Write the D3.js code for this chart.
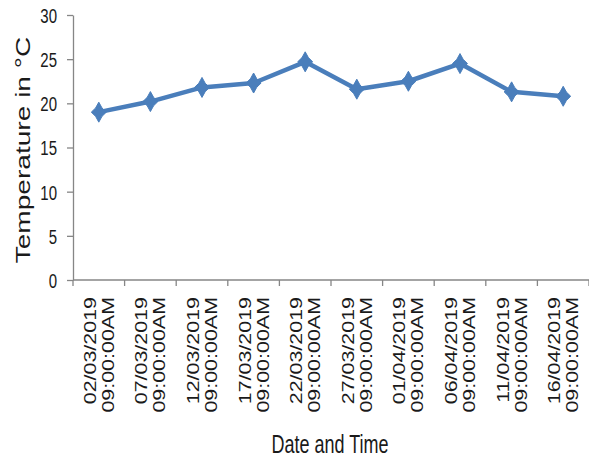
<!DOCTYPE html>
<html>
<head>
<meta charset="utf-8">
<script src="https://cdn.jsdelivr.net/npm/d3@7/dist/d3.min.js"></script>
<style>
  html, body { margin: 0; padding: 0; background: #fff; }
  svg { display: block; }
  text { font-family: "Liberation Sans", Arial, sans-serif; fill: #1a1a1a; }
</style>
</head>
<body>
<svg id="chart" width="589" height="461"></svg>
<script>
// Readings taken every five days at 09:00
const dates = ["02/03/2019", "07/03/2019", "12/03/2019", "17/03/2019", "22/03/2019",
               "27/03/2019", "01/04/2019", "06/04/2019", "11/04/2019", "16/04/2019"];
const times = ["09:00:00AM", "09:00:00AM", "09:00:00AM", "09:00:00AM", "09:00:00AM",
               "09:00:00AM", "09:00:00AM", "09:00:00AM", "09:00:00AM", "09:00:00AM"];
const temperatures = [19.0, 20.2, 21.8, 22.3, 24.7, 21.6, 22.5, 24.5, 21.3, 20.8];
const yTicks = [0, 5, 10, 15, 20, 25, 30];

const svg = d3.select("#chart");
const plot = { left: 73, right: 589, top: 15, bottom: 280 };
const stretch = 1.37;          // text is drawn tall and narrow
const axisColor = "#868686";
const lineColor = "#4A7EBB";

const x = d3.scaleBand().domain(dates).range([plot.left, plot.right]).padding(0);
const y = d3.scaleLinear().domain([0, 30]).range([plot.bottom, plot.top]);

// Y axis
const yAxis = svg.append("g")
  .attr("transform", `translate(${plot.left},0)`)
  .call(d3.axisLeft(y).tickValues(yTicks).tickSize(6).tickSizeOuter(0).tickFormat(d3.format("d")));
yAxis.select(".domain").attr("stroke", axisColor).attr("stroke-width", 1.3);
yAxis.selectAll(".tick line").attr("stroke", axisColor).attr("stroke-width", 1.3);
yAxis.selectAll(".tick text").remove();
yAxis.selectAll(".tick").append("text")
  .attr("transform", `translate(-16,0) scale(1,${stretch})`)
  .attr("text-anchor", "end")
  .attr("dy", "0.36em")
  .attr("font-size", 15)
  .text(d => d);

// X axis: baseline plus tick marks at the category boundaries
const xg = svg.append("g");
xg.append("line")
  .attr("x1", plot.left).attr("x2", plot.right)
  .attr("y1", plot.bottom).attr("y2", plot.bottom)
  .attr("stroke", axisColor).attr("stroke-width", 1.3);
const boundaries = dates.map(d => x(d)).concat([x.range()[1]]);
xg.selectAll("line.tick").data(boundaries).enter().append("line")
  .attr("class", "tick")
  .attr("x1", d => d).attr("x2", d => d)
  .attr("y1", plot.bottom).attr("y2", plot.bottom + 6)
  .attr("stroke", axisColor).attr("stroke-width", 1.3);

// Rotated two-line category labels
const labelTop = 297;
const labelStretch = 1.3;
const labels = xg.selectAll("g.label").data(dates).enter().append("g")
  .attr("class", "label");
labels.append("text")
  .attr("transform", d => `translate(${x(d) + x.bandwidth() / 2 - 3},${labelTop}) rotate(-90) scale(${labelStretch},1)`)
  .attr("text-anchor", "end")
  .attr("font-size", 16.5)
  .text(d => d);
labels.append("text")
  .attr("transform", (d, i) => `translate(${x(d) + x.bandwidth() / 2 + 15},${labelTop}) rotate(-90) scale(${labelStretch},1)`)
  .attr("text-anchor", "end")
  .attr("font-size", 16.5)
  .text((d, i) => times[i]);

// Axis titles
svg.append("text")
  .attr("transform", `translate(30,150) rotate(-90) scale(${stretch},1)`)
  .attr("text-anchor", "middle")
  .attr("font-size", 20.5)
  .text("Temperature in °C");
svg.append("text")
  .attr("transform", `translate(330,453) scale(1,1.4)`)
  .attr("text-anchor", "middle")
  .attr("font-size", 18)
  .text("Date and Time");

// Series line
const line = d3.line()
  .x((d, i) => x(dates[i]) + x.bandwidth() / 2)
  .y(d => y(d));
svg.append("path")
  .datum(temperatures)
  .attr("d", line)
  .attr("fill", "none")
  .attr("stroke", lineColor)
  .attr("stroke-width", 4.5)
  .attr("stroke-linejoin", "round");

// Four-pointed star markers
const w = 7.5, h = 10, a = 3.2, b = 4.2;
const star = `M0,${-h} L${a},${-b} L${w},0 L${a},${b} L0,${h} L${-a},${b} L${-w},0 L${-a},${-b} Z`;
svg.append("g").selectAll("path").data(temperatures).enter().append("path")
  .attr("transform", (d, i) => `translate(${x(dates[i]) + x.bandwidth() / 2},${y(d)})`)
  .attr("d", star)
  .attr("fill", lineColor)
  .attr("stroke", lineColor)
  .attr("stroke-width", 1)
  .attr("stroke-linejoin", "round");
</script>
</body>
</html>
